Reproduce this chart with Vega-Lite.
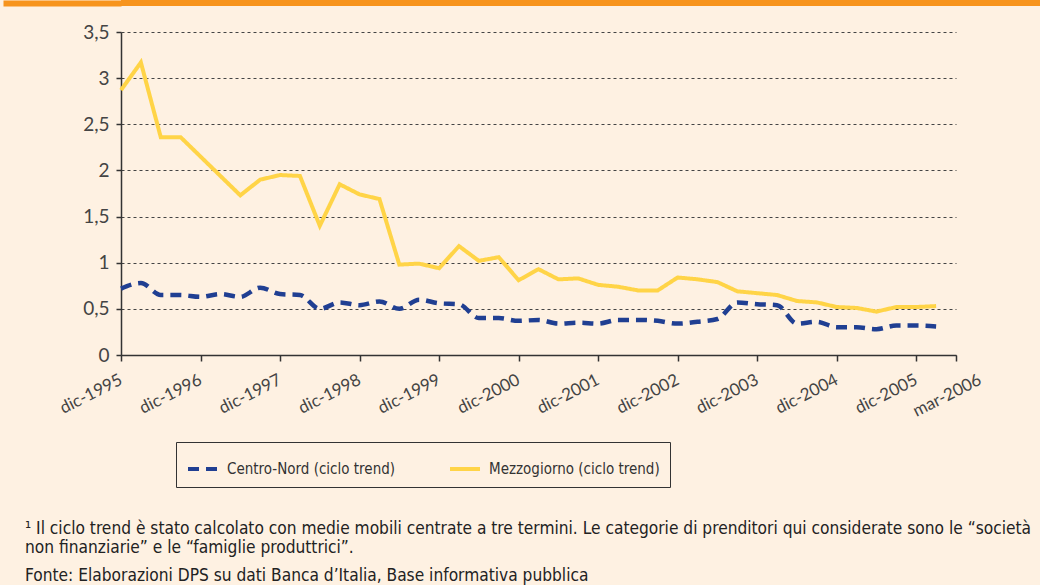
{
  "$schema": "https://vega.github.io/schema/vega-lite/v6.json",
  "background": "#FEF1E2",
  "padding": 0,
  "columns": 1,
  "align": "none",
  "bounds": "full",
  "spacing": 17,
  "config": {"view": {"stroke": null}, "font": "Lato"},
  "concat": [
    {
      "width": 1040,
      "height": 6,
      "view": {"fill": "#F7941D", "stroke": null},
      "data": {"values": [{"banda": 0.5}]},
      "mark": {"type": "point", "opacity": 0},
      "encoding": {
        "y": {
          "field": "banda",
          "type": "quantitative",
          "scale": {"domain": [0, 1], "nice": false, "zero": false},
          "axis": {
            "title": null,
            "labels": false,
            "domain": false,
            "grid": false,
            "values": [0.5],
            "tickSize": 118,
            "tickWidth": 6,
            "tickColor": "#F7941D",
            "tickCap": "butt"
          }
        }
      }
    },
    {
      "width": 835,
      "height": 323,
      "data": {
        "values": [
          {"trimestre": 0, "periodo": "dic-1995", "area": "Centro-Nord (ciclo trend)", "valore": 0.72},
          {"trimestre": 1, "periodo": "mar-1996", "area": "Centro-Nord (ciclo trend)", "valore": 0.78},
          {"trimestre": 2, "periodo": "giu-1996", "area": "Centro-Nord (ciclo trend)", "valore": 0.65},
          {"trimestre": 3, "periodo": "set-1996", "area": "Centro-Nord (ciclo trend)", "valore": 0.65},
          {"trimestre": 4, "periodo": "dic-1996", "area": "Centro-Nord (ciclo trend)", "valore": 0.63},
          {"trimestre": 5, "periodo": "mar-1997", "area": "Centro-Nord (ciclo trend)", "valore": 0.66},
          {"trimestre": 6, "periodo": "giu-1997", "area": "Centro-Nord (ciclo trend)", "valore": 0.63},
          {"trimestre": 7, "periodo": "set-1997", "area": "Centro-Nord (ciclo trend)", "valore": 0.73},
          {"trimestre": 8, "periodo": "dic-1997", "area": "Centro-Nord (ciclo trend)", "valore": 0.66},
          {"trimestre": 9, "periodo": "mar-1998", "area": "Centro-Nord (ciclo trend)", "valore": 0.65},
          {"trimestre": 10, "periodo": "giu-1998", "area": "Centro-Nord (ciclo trend)", "valore": 0.50},
          {"trimestre": 11, "periodo": "set-1998", "area": "Centro-Nord (ciclo trend)", "valore": 0.57},
          {"trimestre": 12, "periodo": "dic-1998", "area": "Centro-Nord (ciclo trend)", "valore": 0.54},
          {"trimestre": 13, "periodo": "mar-1999", "area": "Centro-Nord (ciclo trend)", "valore": 0.58},
          {"trimestre": 14, "periodo": "giu-1999", "area": "Centro-Nord (ciclo trend)", "valore": 0.50},
          {"trimestre": 15, "periodo": "set-1999", "area": "Centro-Nord (ciclo trend)", "valore": 0.60},
          {"trimestre": 16, "periodo": "dic-1999", "area": "Centro-Nord (ciclo trend)", "valore": 0.56},
          {"trimestre": 17, "periodo": "mar-2000", "area": "Centro-Nord (ciclo trend)", "valore": 0.55},
          {"trimestre": 18, "periodo": "giu-2000", "area": "Centro-Nord (ciclo trend)", "valore": 0.40},
          {"trimestre": 19, "periodo": "set-2000", "area": "Centro-Nord (ciclo trend)", "valore": 0.40},
          {"trimestre": 20, "periodo": "dic-2000", "area": "Centro-Nord (ciclo trend)", "valore": 0.37},
          {"trimestre": 21, "periodo": "mar-2001", "area": "Centro-Nord (ciclo trend)", "valore": 0.38},
          {"trimestre": 22, "periodo": "giu-2001", "area": "Centro-Nord (ciclo trend)", "valore": 0.34},
          {"trimestre": 23, "periodo": "set-2001", "area": "Centro-Nord (ciclo trend)", "valore": 0.35},
          {"trimestre": 24, "periodo": "dic-2001", "area": "Centro-Nord (ciclo trend)", "valore": 0.34},
          {"trimestre": 25, "periodo": "mar-2002", "area": "Centro-Nord (ciclo trend)", "valore": 0.38},
          {"trimestre": 26, "periodo": "giu-2002", "area": "Centro-Nord (ciclo trend)", "valore": 0.38},
          {"trimestre": 27, "periodo": "set-2002", "area": "Centro-Nord (ciclo trend)", "valore": 0.37},
          {"trimestre": 28, "periodo": "dic-2002", "area": "Centro-Nord (ciclo trend)", "valore": 0.34},
          {"trimestre": 29, "periodo": "mar-2003", "area": "Centro-Nord (ciclo trend)", "valore": 0.36},
          {"trimestre": 30, "periodo": "giu-2003", "area": "Centro-Nord (ciclo trend)", "valore": 0.39},
          {"trimestre": 31, "periodo": "set-2003", "area": "Centro-Nord (ciclo trend)", "valore": 0.57},
          {"trimestre": 32, "periodo": "dic-2003", "area": "Centro-Nord (ciclo trend)", "valore": 0.55},
          {"trimestre": 33, "periodo": "mar-2004", "area": "Centro-Nord (ciclo trend)", "valore": 0.54},
          {"trimestre": 34, "periodo": "giu-2004", "area": "Centro-Nord (ciclo trend)", "valore": 0.34},
          {"trimestre": 35, "periodo": "set-2004", "area": "Centro-Nord (ciclo trend)", "valore": 0.36},
          {"trimestre": 36, "periodo": "dic-2004", "area": "Centro-Nord (ciclo trend)", "valore": 0.30},
          {"trimestre": 37, "periodo": "mar-2005", "area": "Centro-Nord (ciclo trend)", "valore": 0.30},
          {"trimestre": 38, "periodo": "giu-2005", "area": "Centro-Nord (ciclo trend)", "valore": 0.28},
          {"trimestre": 39, "periodo": "set-2005", "area": "Centro-Nord (ciclo trend)", "valore": 0.32},
          {"trimestre": 40, "periodo": "dic-2005", "area": "Centro-Nord (ciclo trend)", "valore": 0.32},
          {"trimestre": 41, "periodo": "mar-2006", "area": "Centro-Nord (ciclo trend)", "valore": 0.31},
          {"trimestre": 0, "periodo": "dic-1995", "area": "Mezzogiorno (ciclo trend)", "valore": 2.87},
          {"trimestre": 1, "periodo": "mar-1996", "area": "Mezzogiorno (ciclo trend)", "valore": 3.17},
          {"trimestre": 2, "periodo": "giu-1996", "area": "Mezzogiorno (ciclo trend)", "valore": 2.36},
          {"trimestre": 3, "periodo": "set-1996", "area": "Mezzogiorno (ciclo trend)", "valore": 2.36},
          {"trimestre": 4, "periodo": "dic-1996", "area": "Mezzogiorno (ciclo trend)", "valore": 2.15},
          {"trimestre": 5, "periodo": "mar-1997", "area": "Mezzogiorno (ciclo trend)", "valore": 1.94},
          {"trimestre": 6, "periodo": "giu-1997", "area": "Mezzogiorno (ciclo trend)", "valore": 1.73},
          {"trimestre": 7, "periodo": "set-1997", "area": "Mezzogiorno (ciclo trend)", "valore": 1.90},
          {"trimestre": 8, "periodo": "dic-1997", "area": "Mezzogiorno (ciclo trend)", "valore": 1.95},
          {"trimestre": 9, "periodo": "mar-1998", "area": "Mezzogiorno (ciclo trend)", "valore": 1.94},
          {"trimestre": 10, "periodo": "giu-1998", "area": "Mezzogiorno (ciclo trend)", "valore": 1.40},
          {"trimestre": 11, "periodo": "set-1998", "area": "Mezzogiorno (ciclo trend)", "valore": 1.85},
          {"trimestre": 12, "periodo": "dic-1998", "area": "Mezzogiorno (ciclo trend)", "valore": 1.74},
          {"trimestre": 13, "periodo": "mar-1999", "area": "Mezzogiorno (ciclo trend)", "valore": 1.69},
          {"trimestre": 14, "periodo": "giu-1999", "area": "Mezzogiorno (ciclo trend)", "valore": 0.98},
          {"trimestre": 15, "periodo": "set-1999", "area": "Mezzogiorno (ciclo trend)", "valore": 0.99},
          {"trimestre": 16, "periodo": "dic-1999", "area": "Mezzogiorno (ciclo trend)", "valore": 0.94},
          {"trimestre": 17, "periodo": "mar-2000", "area": "Mezzogiorno (ciclo trend)", "valore": 1.18},
          {"trimestre": 18, "periodo": "giu-2000", "area": "Mezzogiorno (ciclo trend)", "valore": 1.02},
          {"trimestre": 19, "periodo": "set-2000", "area": "Mezzogiorno (ciclo trend)", "valore": 1.06},
          {"trimestre": 20, "periodo": "dic-2000", "area": "Mezzogiorno (ciclo trend)", "valore": 0.81},
          {"trimestre": 21, "periodo": "mar-2001", "area": "Mezzogiorno (ciclo trend)", "valore": 0.93},
          {"trimestre": 22, "periodo": "giu-2001", "area": "Mezzogiorno (ciclo trend)", "valore": 0.82},
          {"trimestre": 23, "periodo": "set-2001", "area": "Mezzogiorno (ciclo trend)", "valore": 0.83},
          {"trimestre": 24, "periodo": "dic-2001", "area": "Mezzogiorno (ciclo trend)", "valore": 0.76},
          {"trimestre": 25, "periodo": "mar-2002", "area": "Mezzogiorno (ciclo trend)", "valore": 0.74},
          {"trimestre": 26, "periodo": "giu-2002", "area": "Mezzogiorno (ciclo trend)", "valore": 0.70},
          {"trimestre": 27, "periodo": "set-2002", "area": "Mezzogiorno (ciclo trend)", "valore": 0.70},
          {"trimestre": 28, "periodo": "dic-2002", "area": "Mezzogiorno (ciclo trend)", "valore": 0.84},
          {"trimestre": 29, "periodo": "mar-2003", "area": "Mezzogiorno (ciclo trend)", "valore": 0.82},
          {"trimestre": 30, "periodo": "giu-2003", "area": "Mezzogiorno (ciclo trend)", "valore": 0.79},
          {"trimestre": 31, "periodo": "set-2003", "area": "Mezzogiorno (ciclo trend)", "valore": 0.69},
          {"trimestre": 32, "periodo": "dic-2003", "area": "Mezzogiorno (ciclo trend)", "valore": 0.67},
          {"trimestre": 33, "periodo": "mar-2004", "area": "Mezzogiorno (ciclo trend)", "valore": 0.65},
          {"trimestre": 34, "periodo": "giu-2004", "area": "Mezzogiorno (ciclo trend)", "valore": 0.585},
          {"trimestre": 35, "periodo": "set-2004", "area": "Mezzogiorno (ciclo trend)", "valore": 0.57},
          {"trimestre": 36, "periodo": "dic-2004", "area": "Mezzogiorno (ciclo trend)", "valore": 0.52},
          {"trimestre": 37, "periodo": "mar-2005", "area": "Mezzogiorno (ciclo trend)", "valore": 0.51},
          {"trimestre": 38, "periodo": "giu-2005", "area": "Mezzogiorno (ciclo trend)", "valore": 0.47},
          {"trimestre": 39, "periodo": "set-2005", "area": "Mezzogiorno (ciclo trend)", "valore": 0.52},
          {"trimestre": 40, "periodo": "dic-2005", "area": "Mezzogiorno (ciclo trend)", "valore": 0.52},
          {"trimestre": 41, "periodo": "mar-2006", "area": "Mezzogiorno (ciclo trend)", "valore": 0.53}
        ]
      },
      "title": {
        "text": [
          "¹ Il ciclo trend è stato calcolato con medie mobili centrate a tre termini. Le categorie di prenditori qui considerate sono le “società",
          "non finanziarie” e le “famiglie produttrici”."
        ],
        "subtitle": "Fonte: Elaborazioni DPS su dati Banca d’Italia, Base informativa pubblica",
        "orient": "bottom",
        "anchor": "start",
        "frame": "group",
        "dx": -96,
        "offset": 101,
        "font": "DejaVu Sans Condensed, sans-serif",
        "fontSize": 17.2,
        "fontWeight": "normal",
        "color": "#222222",
        "lineHeight": 18.5,
        "subtitleFont": "DejaVu Sans Condensed, sans-serif",
        "subtitleFontSize": 17.2,
        "subtitleColor": "#222222",
        "subtitlePadding": 11
      },
      "encoding": {
        "x": {
          "field": "trimestre",
          "type": "quantitative",
          "scale": {"domain": [0, 42], "nice": false, "zero": false},
          "axis": {
            "title": null,
            "grid": false,
            "values": [0, 4, 8, 12, 16, 20, 24, 28, 32, 36, 40, 42],
            "labelExpr": "datum.value == 42 ? 'mar-2006' : 'dic-' + (1995 + datum.value / 4)",
            "labelAngle": -27,
            "labelAlign": "right",
            "labelBaseline": "alphabetic",
            "labelPadding": 22,
            "labelOffset": {"condition": {"test": "datum.value == 42", "value": 26}, "value": 2},
            "labelOverlap": false,
            "labelBound": false,
            "labelFlush": false,
            "labelFont": "Lato",
            "labelFontSize": 17,
            "labelColor": "#444444",
            "tickSize": 6,
            "tickColor": "#333333",
            "tickWidth": 1.5,
            "domainColor": "#333333",
            "domainWidth": 1.5
          }
        },
        "y": {
          "field": "valore",
          "type": "quantitative",
          "scale": {"domain": [0, 3.5], "nice": false},
          "axis": {
            "values": [0, 0.5, 1, 1.5, 2, 2.5, 3, 3.5],
            "labelExpr": "replace(format(datum.value, '~g'), '.', ',')",
            "title": null,
            "grid": true,
            "gridDash": [3, 3],
            "gridColor": "#444444",
            "gridWidth": 1,
            "domainColor": "#333333",
            "domainWidth": 1.5,
            "tickColor": "#333333",
            "tickWidth": 1.5,
            "tickSize": 5,
            "labelPadding": 7,
            "labelFont": "Lato",
            "labelFontSize": 19,
            "labelColor": "#444444"
          }
        },
        "color": {
          "field": "area",
          "type": "nominal",
          "scale": {
            "domain": ["Centro-Nord (ciclo trend)", "Mezzogiorno (ciclo trend)"],
            "range": ["#203F92", "#FFD447"]
          },
          "legend": {
            "title": null,
            "orient": "none",
            "legendX": 55,
            "legendY": 442,
            "direction": "horizontal",
            "symbolType": "stroke",
            "symbolSize": 900,
            "symbolStrokeWidth": 4,
            "labelFont": "DejaVu Sans Condensed, sans-serif",
            "labelFontSize": 15,
            "labelColor": "#333333",
            "labelOffset": 7,
            "labelLimit": 400,
            "columnPadding": 46,
            "padding": 10,
            "strokeColor": "#333333"
          }
        },
        "strokeDash": {
          "field": "area",
          "type": "nominal",
          "scale": {
            "domain": ["Centro-Nord (ciclo trend)", "Mezzogiorno (ciclo trend)"],
            "range": [[11, 7], [1, 0]]
          },
          "legend": {
            "title": null,
            "orient": "none",
            "legendX": 55,
            "legendY": 442,
            "direction": "horizontal",
            "symbolType": "stroke",
            "symbolSize": 900,
            "symbolStrokeWidth": 4,
            "labelFont": "DejaVu Sans Condensed, sans-serif",
            "labelFontSize": 15,
            "labelColor": "#333333",
            "labelOffset": 7,
            "labelLimit": 400,
            "columnPadding": 46,
            "padding": 10,
            "strokeColor": "#333333"
          }
        }
      },
      "layer": [
        {
          "transform": [{"filter": "datum.area === 'Centro-Nord (ciclo trend)'"}],
          "mark": {"type": "line", "interpolate": "monotone", "strokeWidth": 4.5}
        },
        {
          "transform": [{"filter": "datum.area === 'Mezzogiorno (ciclo trend)'"}],
          "mark": {"type": "line", "strokeWidth": 4}
        }
      ]
    }
  ]
}
